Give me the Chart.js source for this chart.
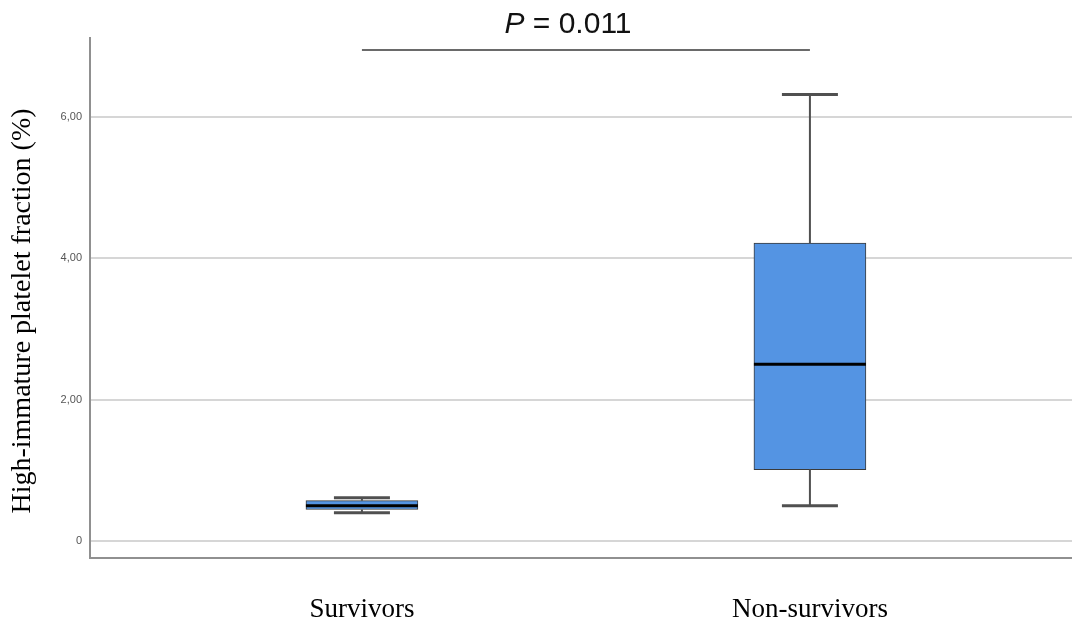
<!DOCTYPE html>
<html>
<head>
<meta charset="utf-8">
<script src="https://cdn.jsdelivr.net/npm/chart.js@4/dist/chart.umd.min.js"></script>
<style>
  html, body { margin: 0; padding: 0; background: #ffffff; }
  #wrap { width: 1072px; height: 631px; }
</style>
</head>
<body>
<div id="wrap"><canvas id="c" width="1072" height="631"></canvas></div>
<script>
// Groups and box-plot summary statistics (%)
const categories   = ['Survivors', 'Non-survivors'];
const whiskerLow   = [0.40, 0.50];
const quartile1    = [0.445, 1.01];
const medians      = [0.50, 2.50];
const quartile3    = [0.57, 4.21];
const whiskerHigh  = [0.61, 6.31];

// Value axis ticks and their printed labels
const yTickValues  = [0, 2, 4, 6];
const yTickLabels  = ['0', '2,00', '4,00', '6,00'];
const yAxisTitle   = 'High-immature platelet fraction (%)';

// Comparison bracket
const pLabelItalic = 'P';
const pLabelRest   = ' = 0.011';
const bracketLevel = 6.94;

const boxes = categories.map((c, i) => ({ x: i, y: [quartile1[i], quartile3[i]] }));

// Whiskers, caps, medians, the significance bracket and the value-axis title
const boxplotExtras = {
  id: 'boxplotExtras',
  afterDatasetsDraw(chart) {
    const { ctx, chartArea, scales: { x, y } } = chart;
    const meta = chart.getDatasetMeta(0);
    ctx.save();
    categories.forEach((c, i) => {
      const bar = meta.data[i];
      const cx = x.getPixelForValue(i);
      const half = bar.width / 2;
      const capHalf = half / 2;
      const yLo = y.getPixelForValue(whiskerLow[i]);
      const yQ1 = y.getPixelForValue(quartile1[i]);
      const yQ3 = y.getPixelForValue(quartile3[i]);
      const yHi = y.getPixelForValue(whiskerHigh[i]);
      const yMed = y.getPixelForValue(medians[i]);

      ctx.strokeStyle = '#505050';
      ctx.lineCap = 'butt';
      ctx.lineWidth = 2;
      ctx.beginPath();
      ctx.moveTo(cx, yQ3); ctx.lineTo(cx, yHi);
      ctx.moveTo(cx, yQ1); ctx.lineTo(cx, yLo);
      ctx.stroke();

      ctx.lineWidth = 3;
      ctx.beginPath();
      ctx.moveTo(cx - capHalf, yHi); ctx.lineTo(cx + capHalf, yHi);
      ctx.moveTo(cx - capHalf, yLo); ctx.lineTo(cx + capHalf, yLo);
      ctx.stroke();

      ctx.strokeStyle = '#000000';
      ctx.lineWidth = 3;
      ctx.beginPath();
      ctx.moveTo(cx - half, yMed); ctx.lineTo(cx + half, yMed);
      ctx.stroke();
    });

    // significance bracket between the two groups
    const x0 = x.getPixelForValue(0);
    const x1 = x.getPixelForValue(1);
    const yb = y.getPixelForValue(bracketLevel);
    ctx.strokeStyle = '#6a6a6a';
    ctx.lineWidth = 2;
    ctx.beginPath();
    ctx.moveTo(x0, yb); ctx.lineTo(x1, yb);
    ctx.stroke();

    ctx.fillStyle = '#111111';
    ctx.textBaseline = 'alphabetic';
    const fontSize = 30;
    const italicFont = 'italic ' + fontSize + 'px "Liberation Sans", Arial, sans-serif';
    const regularFont = fontSize + 'px "Liberation Sans", Arial, sans-serif';
    ctx.font = italicFont;
    const wP = ctx.measureText(pLabelItalic).width;
    ctx.font = regularFont;
    const wR = ctx.measureText(pLabelRest).width;
    const textCenter = x.getPixelForValue(0.46);
    const start = textCenter - (wP + wR) / 2;
    const baseline = yb - 17;
    ctx.font = italicFont;
    ctx.fillText(pLabelItalic, start, baseline);
    ctx.font = regularFont;
    ctx.fillText(pLabelRest, start + wP, baseline);

    // value-axis title, rotated, sitting slightly below the plot's mid-height
    ctx.fillStyle = '#000000';
    ctx.font = '28px "Liberation Serif", "Times New Roman", serif';
    ctx.textAlign = 'center';
    ctx.textBaseline = 'middle';
    ctx.translate(y.left + 23, (chartArea.top + chartArea.bottom) / 2 + 13);
    ctx.rotate(-Math.PI / 2);
    ctx.fillText(yAxisTitle, 0, 0);
    ctx.restore();
  }
};

new Chart(document.getElementById('c'), {
  type: 'bar',
  data: {
    datasets: [{
      data: boxes,
      backgroundColor: '#5494e3',
      borderColor: '#3a3a3a',
      borderWidth: 1,
      borderSkipped: false,
      barThickness: 112
    }]
  },
  plugins: [boxplotExtras],
  options: {
    responsive: false,
    animation: false,
    layout: { padding: { top: 38, right: 0, bottom: 0, left: 0 } },
    plugins: { legend: { display: false }, tooltip: { enabled: false } },
    scales: {
      x: {
        type: 'linear',
        offset: false,
        min: -0.607,
        max: 1.585,
        grid: { display: false, offset: false },
        border: { display: true, color: '#909090', width: 2 },
        afterBuildTicks: s => { s.ticks = categories.map((c, i) => ({ value: i })); },
        afterFit: s => { s.height = 73; },
        ticks: {
          autoSkip: false,
          maxRotation: 0,
          padding: 28,
          color: '#000000',
          font: { family: '"Liberation Serif", "Times New Roman", serif', size: 27 },
          callback: v => categories[v]
        }
      },
      y: {
        min: -0.24,
        max: 7.11,
        afterBuildTicks: s => { s.ticks = yTickValues.map(v => ({ value: v })); },
        afterFit: s => { s.width = 90; },
        grid: { color: '#d6d6d6', lineWidth: 2, drawTicks: false },
        border: { display: true, color: '#909090', width: 2 },
        ticks: {
          padding: 8,
          color: '#555555',
          font: { family: '"Liberation Sans", Arial, sans-serif', size: 11 },
          callback: v => yTickLabels[yTickValues.indexOf(v)]
        },
        title: { display: false }
      }
    }
  }
});
</script>
</body>
</html>
